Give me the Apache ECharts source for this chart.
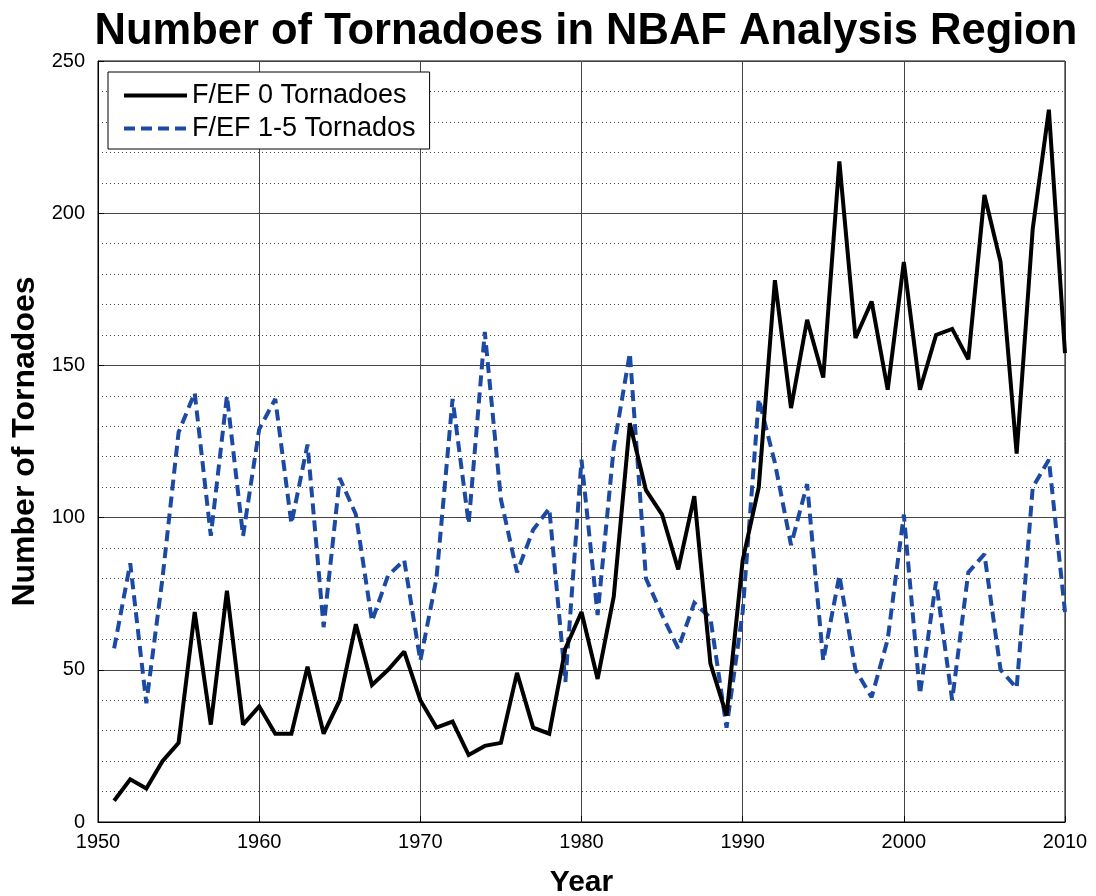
<!DOCTYPE html>
<html>
<head>
<meta charset="utf-8">
<script src="https://cdn.jsdelivr.net/npm/echarts@6/dist/echarts.min.js"></script>
<style>
html,body{margin:0;padding:0;background:#fff;}
#chart{width:1096px;height:896px;}
</style>
</head>
<body>
<div id="chart"></div>
<script>
const years = [1951,1952,1953,1954,1955,1956,1957,1958,1959,1960,
  1961,1962,1963,1964,1965,1966,1967,1968,1969,1970,
  1971,1972,1973,1974,1975,1976,1977,1978,1979,1980,
  1981,1982,1983,1984,1985,1986,1987,1988,1989,1990,
  1991,1992,1993,1994,1995,1996,1997,1998,1999,2000,
  2001,2002,2003,2004,2005,2006,2007,2008,2009,2010];
const ef0 = [7,14,11,20,26,69,32,76,32,38,
  29,29,51,29,40,65,45,50,56,40,
  31,33,22,25,26,49,31,29,57,69,
  47,74,131,109,101,83,107,52,35,86,
  110,178,136,165,146,217,159,171,142,184,
  142,160,162,152,206,184,121,195,234,154];
const ef15 = [57,85,39,80,128,141,94,140,94,129,
  139,98,124,64,113,101,66,81,86,53,
  80,139,98,161,106,82,96,103,46,119,
  68,123,154,80,68,57,72,67,31,69,
  139,118,91,111,53,81,50,41,60,101,
  42,79,40,82,88,50,44,110,119,69];
const seriesNames = ['F/EF 0 Tornadoes', 'F/EF 1-5 Tornados'];
const titleText = 'Number of Tornadoes in NBAF Analysis Region';
const xName = 'Year';
const yName = 'Number of Tornadoes';

const FONT = '"Liberation Sans", Arial, Helvetica, sans-serif';
const chart = echarts.init(document.getElementById('chart'), null, {renderer: 'canvas'});
chart.setOption({
  animation: false,
  backgroundColor: '#fff',
  title: {
    text: titleText,
    left: 581, top: 5, textAlign: 'center',
    textStyle: {fontFamily: FONT, fontWeight: 'bold', fontSize: 43.5, color: '#000'}
  },
  grid: {left: 98, right: 31, top: 61, bottom: 74, show: true, borderColor: '#000', borderWidth: 1,
    backgroundColor: 'transparent', containLabel: false, outerBoundsMode: 'none'},
  legend: {
    left: 108, top: 72, orient: 'vertical',
    backgroundColor: '#fff', borderColor: '#000', borderWidth: 1, borderRadius: 0,
    padding: [10, 14, 7, 14],
    itemWidth: 63, itemHeight: 14, itemGap: 6,
    itemStyle: {opacity: 0},
    lineStyle: {width: 4},
    textStyle: {fontFamily: FONT, fontSize: 27, color: '#000', lineHeight: 27},
    data: seriesNames
  },
  xAxis: {
    type: 'value', min: 1950, max: 2010, interval: 10,
    name: xName, nameLocation: 'middle', nameGap: 46,
    nameTextStyle: {fontFamily: FONT, fontWeight: 'bold', fontSize: 30, color: '#000'},
    axisLine: {show: true, lineStyle: {color: '#000', width: 1}},
    axisTick: {show: true, inside: true, length: 6, lineStyle: {color: '#000'}},
    axisLabel: {fontFamily: FONT, fontSize: 20, color: '#000', margin: 10, formatter: v => String(v)},
    splitLine: {show: true, lineStyle: {color: '#444', width: 1}}
  },
  yAxis: {
    type: 'value', min: 0, max: 250, interval: 50,
    name: yName, nameLocation: 'middle', nameGap: 45,
    nameTextStyle: {fontFamily: FONT, fontWeight: 'bold', fontSize: 32, color: '#000'},
    axisLine: {show: true, lineStyle: {color: '#000', width: 1}},
    axisTick: {show: true, inside: true, length: 6, lineStyle: {color: '#000'}},
    axisLabel: {fontFamily: FONT, fontSize: 20, color: '#000', margin: 13},
    splitLine: {show: true, lineStyle: {color: '#444', width: 1}},
    minorTick: {show: false, splitNumber: 5},
    minorSplitLine: {show: true, lineStyle: {color: '#444', width: 1, type: [1, 3]}}
  },
  series: [
    {
      name: seriesNames[0], type: 'line', symbol: 'none', showSymbol: false,
      data: years.map((y, i) => [y, ef0[i]]),
      lineStyle: {color: '#000', width: 4, join: 'miter', miterLimit: 2},
      itemStyle: {color: '#000'},
      z: 3
    },
    {
      name: seriesNames[1], type: 'line', symbol: 'none', showSymbol: false,
      data: years.map((y, i) => [y, ef15[i]]),
      lineStyle: {color: '#1c4aa3', width: 4, type: [11, 6], join: 'miter', miterLimit: 2},
      itemStyle: {color: '#1c4aa3'},
      z: 2
    }
  ]
});
</script>
</body>
</html>
